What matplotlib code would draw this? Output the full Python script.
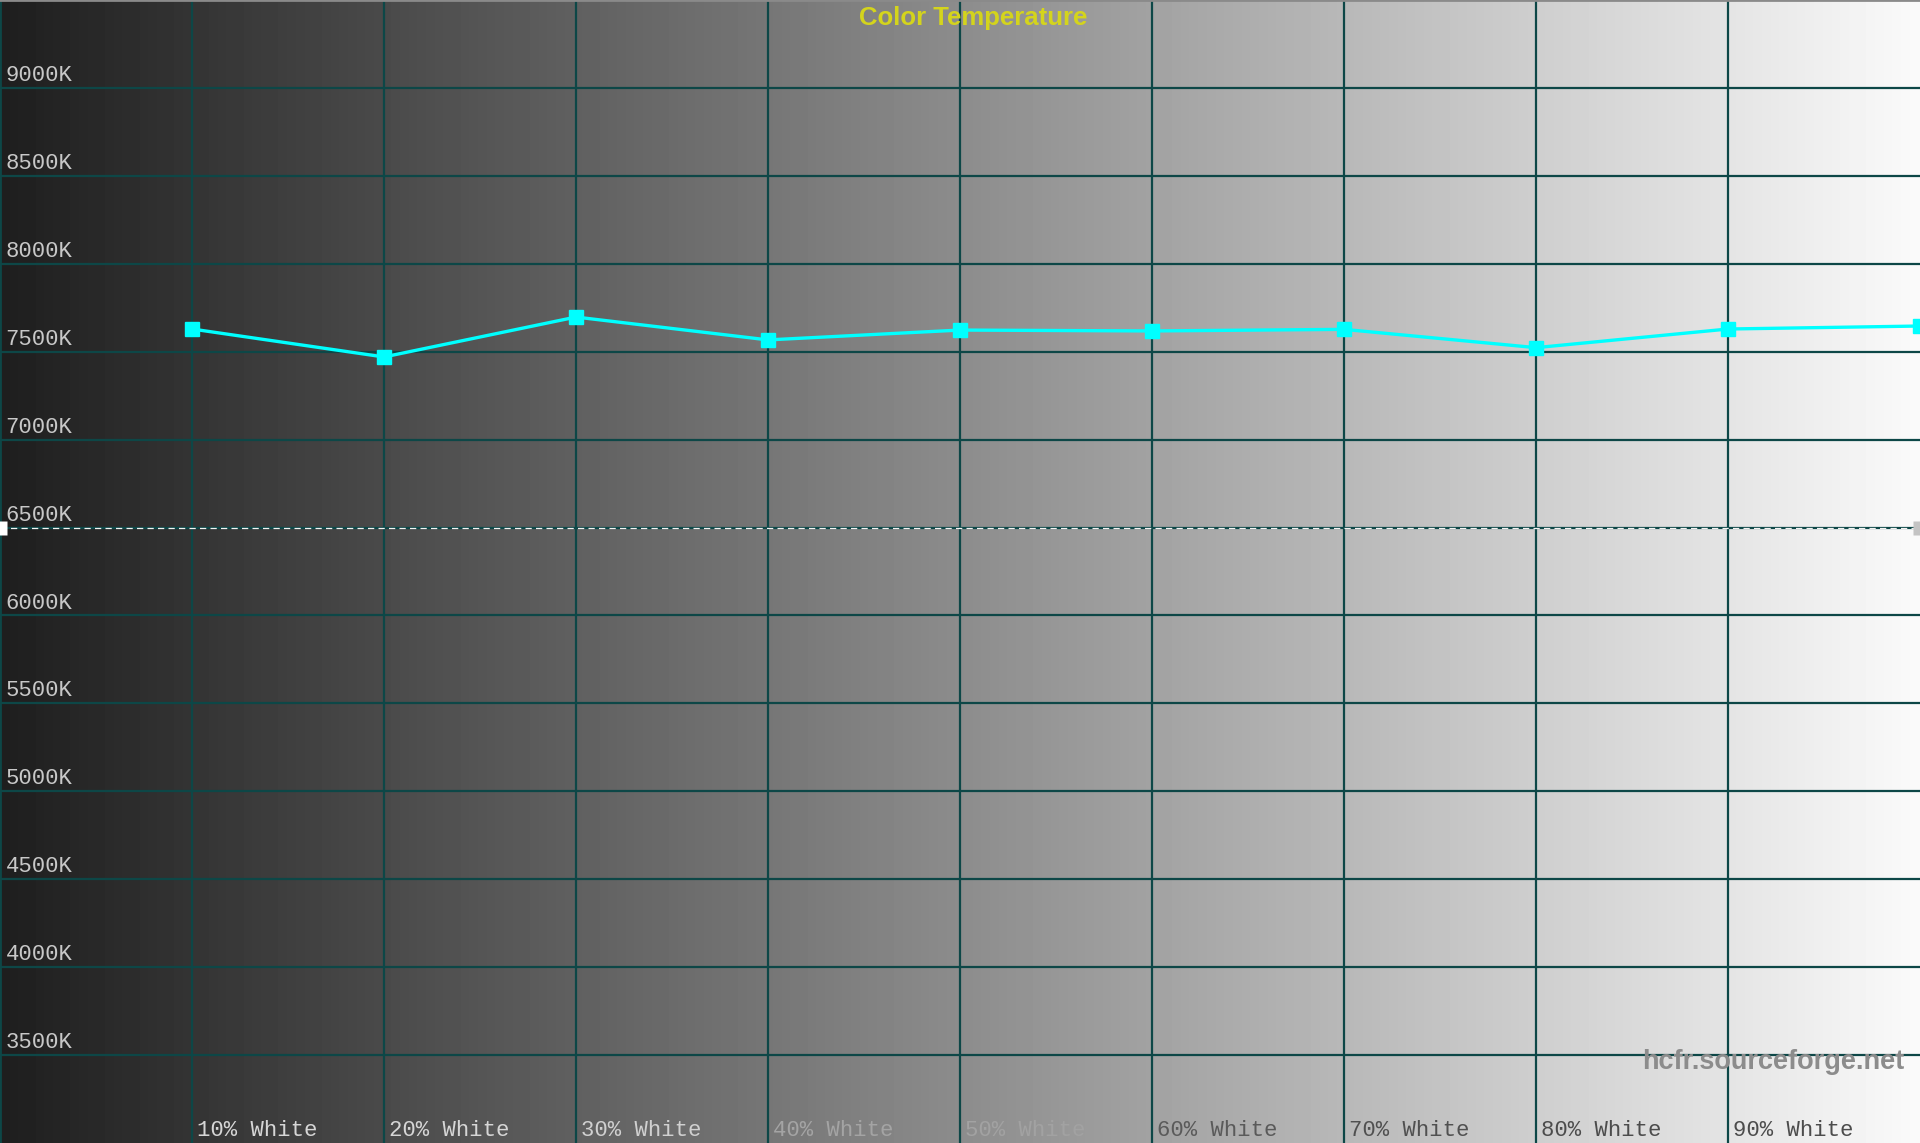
import numpy as np
import matplotlib
matplotlib.use("Agg")
import matplotlib.pyplot as plt

# measured colour temperature per grey step (10% .. 100% white)
steps = [1, 2, 3, 4, 5, 6, 7, 8, 9, 10]
cct = [7629, 7470, 7697, 7567, 7623, 7618, 7627, 7523, 7629, 7646]
x_labels = ["10% White", "20% White", "30% White", "40% White", "50% White",
            "60% White", "70% White", "80% White", "90% White"]
# label tint picked so it reads against the grey ramp, like the original
x_label_colors = ["#d6d6d6", "#d6d6d6", "#d0d0d0", "#a4a4a4", "#a2a2a2",
                  "#5a5a5a", "#505050", "#4c4c4c", "#4c4c4c"]
y_ticks = [3500, 4000, 4500, 5000, 5500, 6000, 6500, 7000, 7500, 8000, 8500, 9000]
target_cct = 6500

grid_c = "#0d4747"
mono = "Liberation Mono"

fig = plt.figure(figsize=(19.2, 11.43), dpi=100)
ax = fig.add_axes([0, 0, 1, 1])
ax.set_xlim(0, 10)
ax.set_ylim(3000, 9500)

# dark-to-white horizontal ramp behind everything
ramp = np.linspace(30, 250, 512)[None, :]
ax.imshow(ramp, cmap="gray", vmin=0, vmax=255, aspect="auto",
          extent=(0, 10, 3000, 9500), zorder=0, interpolation="bilinear")

for v in y_ticks:
    ax.axhline(v, color=grid_c, lw=1.6, zorder=1)
for s in steps[:-1]:
    ax.axvline(s, color=grid_c, lw=1.6, zorder=1)

# 6500K reference
ax.axhline(target_cct, color="#f4f4f4", lw=0.9, dashes=(5, 3.4), zorder=2)
ax.plot([0], [target_cct], marker="s", ms=10, color="#ffffff", mec="none",
        zorder=3, clip_on=True)
ax.plot([10], [target_cct], marker="s", ms=10, color="#c4c4c4", mec="none",
        zorder=3, clip_on=True)

ax.plot(steps, cct, color="#00ffff", lw=2.4, marker="s", ms=9.5,
        mec="#00ffff", zorder=4)

for v in y_ticks:
    ax.annotate("%dK" % v, xy=(0, v), xytext=(4, 5), textcoords="offset points",
                ha="left", va="baseline", fontsize=16, family=mono,
                color="#c8c8c8", zorder=5)

for s, lab, c in zip(steps, x_labels, x_label_colors):
    ax.annotate(lab, xy=(s, 3000), xytext=(3.5, 5), textcoords="offset points",
                ha="left", va="baseline", fontsize=16, family=mono,
                color=c, zorder=5)

ax.text(0.507, 0.984, "Color Temperature", transform=ax.transAxes,
        ha="center", va="center", fontsize=18.5, fontweight="bold",
        family="Liberation Sans", color="#d4d41c", zorder=5)

ax.text(0.992, 0.071, "hcfr.sourceforge.net", transform=ax.transAxes,
        ha="right", va="center", fontsize=19.5, fontweight="bold",
        family="Liberation Sans", color="#8c8c8c", zorder=5)

ax.set_xticks([])
ax.set_yticks([])
for side in ["right", "bottom"]:
    ax.spines[side].set_visible(False)
ax.spines["left"].set_color(grid_c)
ax.spines["left"].set_linewidth(2)
ax.spines["top"].set_color("#8a8a8a")
ax.spines["top"].set_linewidth(2)

fig.savefig("out.png", dpi=100)
